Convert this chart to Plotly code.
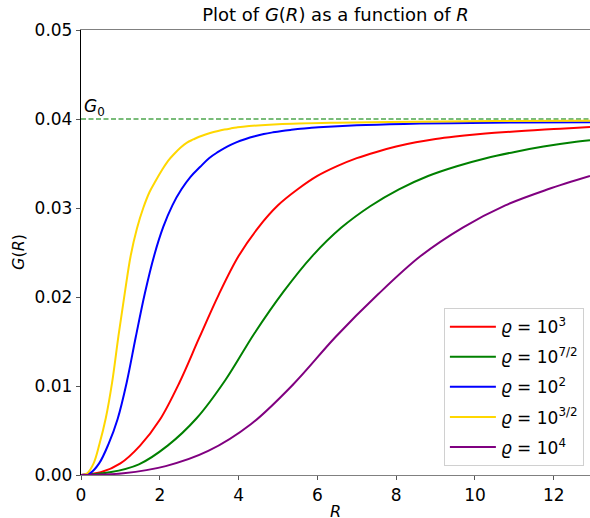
import plotly.graph_objects as go

# Saturation level and curve samples of G(R) for each value of rho
G0 = 0.04

R_rho_3 = [0.0, 0.5, 1.0, 1.5, 2.0, 2.5, 3.0, 3.5, 4.0, 4.5, 5.0, 5.5, 6.0, 6.5, 7.0, 7.5, 8.0, 8.5, 9.0, 9.5, 10.0, 10.5, 11.0, 11.5, 12.0, 12.5, 12.92]
G_rho_3 = [0.0, 0.0003, 0.0013, 0.0033, 0.0062, 0.0104, 0.0154, 0.0203, 0.0246, 0.0278, 0.0303, 0.0321, 0.0336, 0.0347, 0.0356, 0.0363, 0.0369, 0.03738, 0.03775, 0.03803, 0.03826, 0.03845, 0.0386, 0.03874, 0.03887, 0.03899, 0.0391]

R_rho_35 = [0.0, 0.73, 1.47, 2.2, 2.94, 3.67, 4.4, 5.14, 5.87, 6.61, 7.34, 8.07, 8.81, 9.54, 10.28, 11.01, 11.74, 12.48, 12.92]
G_rho_35 = [0.0, 0.0003, 0.0012, 0.0033, 0.0064, 0.0107, 0.0159, 0.0206, 0.0246, 0.0278, 0.0302, 0.0321, 0.0336, 0.0347, 0.0356, 0.0363, 0.0369, 0.03738, 0.0376]

R_rho_2 = [0.0, 0.23, 0.46, 0.70, 0.93, 1.16, 1.39, 1.62, 1.86, 2.09, 2.32, 2.55, 2.78, 3.02, 3.25, 3.48, 3.71, 3.94, 4.18, 4.41, 4.64, 4.87, 5.1, 5.34, 5.57, 5.8, 6.03, 7.0, 8.2, 9.4, 11.0, 12.92]
G_rho_2 = [0.0, 0.0002, 0.0013, 0.0035, 0.0063, 0.0104, 0.0155, 0.0204, 0.0247, 0.0279, 0.0303, 0.0321, 0.0335, 0.0346, 0.0356, 0.0363, 0.0369, 0.03738, 0.03776, 0.03806, 0.03831, 0.0385, 0.03866, 0.03879, 0.0389, 0.03899, 0.03907, 0.0393, 0.03945, 0.03953, 0.0396, 0.03963]

R_rho_15 = [0.0, 0.16, 0.32, 0.47, 0.63, 0.79, 0.95, 1.11, 1.26, 1.42, 1.58, 1.74, 1.9, 2.06, 2.21, 2.37, 2.53, 2.69, 2.85, 3.0, 3.16, 3.32, 3.48, 3.64, 3.8, 3.95, 4.11, 5.0, 6.5, 8.5, 10.5, 12.92]
G_rho_15 = [0.0, 0.0002, 0.0013, 0.0035, 0.0064, 0.0104, 0.0156, 0.0204, 0.0246, 0.0277, 0.0300, 0.0318, 0.0331, 0.0343, 0.0353, 0.0361, 0.0368, 0.03735, 0.0377, 0.038, 0.03826, 0.03848, 0.03866, 0.03881, 0.03894, 0.03905, 0.03914, 0.0394, 0.03958, 0.0397, 0.03977, 0.0398]

R_rho_4 = [0.0, 1.08, 2.15, 3.23, 4.31, 5.39, 6.46, 7.54, 8.62, 9.69, 10.77, 11.85, 12.92]
G_rho_4 = [0.0, 0.0002, 0.0010, 0.0027, 0.0057, 0.0102, 0.0155, 0.0203, 0.0246, 0.0278, 0.0303, 0.0321, 0.0336]

series = [
    ("<i>ϱ</i> = 10<sup>3</sup>", R_rho_3, G_rho_3, "#ff0000"),
    ("<i>ϱ</i> = 10<sup>7/2</sup>", R_rho_35, G_rho_35, "#008000"),
    ("<i>ϱ</i> = 10<sup>2</sup>", R_rho_2, G_rho_2, "#0000ff"),
    ("<i>ϱ</i> = 10<sup>3/2</sup>", R_rho_15, G_rho_15, "#ffd700"),
    ("<i>ϱ</i> = 10<sup>4</sup>", R_rho_4, G_rho_4, "#800080"),
]

x_max = 12.92
FONT = "DejaVu Sans"

fig = go.Figure()

# horizontal reference at G0
fig.add_trace(go.Scatter(
    x=[0, x_max], y=[G0, G0], mode="lines",
    line=dict(color="rgba(0,128,0,0.7)", width=1.5, dash="5px,2.5px"),
    showlegend=False, hoverinfo="skip",
))

for i, (name, rr, gg, col) in enumerate(series):
    fig.add_trace(go.Scatter(
        x=rr, y=gg, mode="lines", name=name,
        legendgroup=f"g{i}",
        line=dict(color=col, width=2, shape="spline", smoothing=1.0),
    ))

fig.update_layout(
    width=590, height=518,
    margin=dict(l=81, r=0, t=30, b=43),
    paper_bgcolor="white", plot_bgcolor="white",
    font=dict(family=FONT, size=17, color="black"),
    title=dict(
        text="Plot of <i>G</i>(<i>R</i>) as a function of <i>R</i>",
        x=(81 + 590) / 2 / 590, xanchor="center",
        y=1 - 15 / 518, yanchor="middle", yref="container",
        font=dict(size=18, family=FONT, color="black"),
    ),
    legend=dict(
        x=0.988, y=0.02, xanchor="right", yanchor="bottom",
        bgcolor="white", bordercolor="#d0d0d0", borderwidth=1,
        font=dict(size=17, family=FONT),
        tracegroupgap=5, itemwidth=46,
    ),
    showlegend=True,
)

fig.update_xaxes(
    range=[0, x_max], tickvals=[0, 2, 4, 6, 8, 10, 12],
    showgrid=False, zeroline=False,
    showline=True, linecolor="#808080", linewidth=1.3, mirror=True,
    ticks="outside", ticklen=4, tickcolor="#555555", tickwidth=1,
    tickfont=dict(size=17, family=FONT),
)
fig.update_yaxes(
    range=[0, 0.05], tickvals=[0, 0.01, 0.02, 0.03, 0.04, 0.05], tickformat=".2f",
    showgrid=False, zeroline=False,
    showline=True, linecolor="black", linewidth=1.3,
    ticks="outside", ticklen=4, tickcolor="#555555", tickwidth=1,
    tickfont=dict(size=17, family=FONT),
)

# axis labels and the G0 marker text
fig.add_annotation(
    text="<i>R</i>", xref="paper", yref="paper", x=0.5, y=-0.081,
    xanchor="center", yanchor="middle", showarrow=False,
    font=dict(size=16, family=FONT),
)
fig.add_annotation(
    text="<i>G</i>(<i>R</i>)", xref="paper", yref="paper",
    x=(18.5 - 81) / 509, y=0.5, textangle=-90,
    xanchor="center", yanchor="middle", showarrow=False,
    font=dict(size=16, family=FONT),
)
fig.add_annotation(
    text="<i>G</i><sub>0</sub>", xref="x", yref="y", x=0.02, y=G0,
    xanchor="left", yanchor="bottom", showarrow=False, yshift=-2,
    font=dict(size=17, family=FONT),
)

fig.write_html("out.html")
